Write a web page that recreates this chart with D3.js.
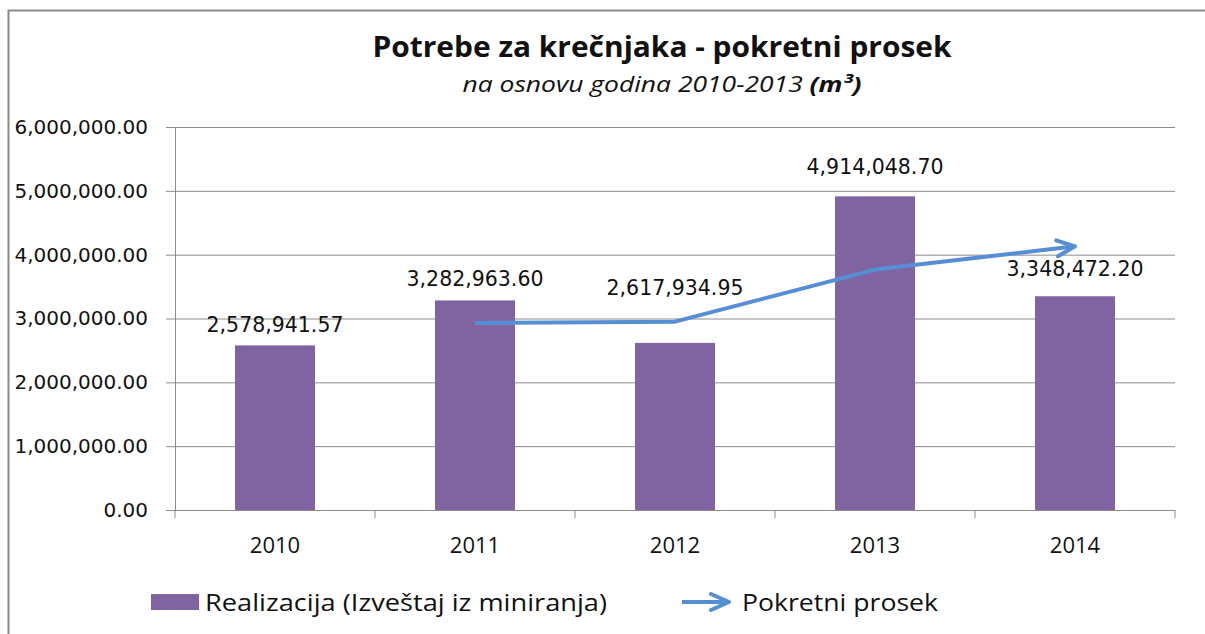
<!DOCTYPE html>
<html>
<head>
<meta charset="utf-8">
<script src="https://cdn.jsdelivr.net/npm/d3@7"></script>
<style>
  body { margin: 0; background: #fff; }
  text { font-family: "Open Sans", "Noto Sans", sans-serif; fill: #111; }
  .num { font-family: "DejaVu Sans", "Open Sans", sans-serif; }
</style>
</head>
<body>
<div id="chart"></div>
<script>
const width = 1205;
const height = 634;

// data
const years = ["2010", "2011", "2012", "2013", "2014"];
const realizacija = [2578941.57, 3282963.60, 2617934.95, 4914048.70, 3348472.20];
const pokretniProsek = [null, 2930952.59, 2950449.28, 3765991.83, 4131260.45];
const yTicks = [0, 1000000, 2000000, 3000000, 4000000, 5000000, 6000000];
// how far each value label sits above its bar (2012 is pushed up over the line)
const labelLift = [20, 21, 55, 29, 27];

const barColor = "#8064a2";
const lineColor = "#558ed5";
const gridColor = "#8c8c8c";

const plotLeft = 175, plotRight = 1175, plotTop = 127, plotBottom = 510;

const svg = d3.select("#chart").append("svg")
    .attr("width", width)
    .attr("height", height);

// outer frame (only top + left visible)
svg.append("path")
    .attr("d", `M8.5,${height} L8.5,10.5 L${width},10.5`)
    .attr("fill", "none")
    .attr("stroke", "#8a8a8a")
    .attr("stroke-width", 2);

// titles
svg.append("text")
    .attr("x", 662).attr("y", 57)
    .attr("text-anchor", "middle")
    .attr("font-size", 29)
    .attr("font-weight", "bold")
    .attr("textLength", 579)
    .attr("lengthAdjust", "spacingAndGlyphs")
    .text("Potrebe za krečnjaka - pokretni prosek");

const sub = svg.append("text")
    .attr("x", 662).attr("y", 92)
    .attr("text-anchor", "middle")
    .attr("font-size", 21)
    .attr("font-style", "italic")
    .attr("textLength", 399)
    .attr("lengthAdjust", "spacingAndGlyphs");
sub.append("tspan").text("na osnovu godina 2010-2013  ");
sub.append("tspan").attr("font-weight", "bold").text("(m³)");

const x = d3.scaleBand()
    .domain(years)
    .range([plotLeft, plotRight])
    .paddingInner(0.6)
    .paddingOuter(0.3);

const y = d3.scaleLinear()
    .domain([0, 6000000])
    .range([plotBottom, plotTop]);

const fmt = d3.format(",.2f");

// gridlines
svg.append("g")
    .attr("transform", `translate(${plotLeft},0)`)
    .call(d3.axisLeft(y).tickValues(yTicks).tickSize(-(plotRight - plotLeft)).tickFormat(""))
    .call(g => g.select(".domain").remove())
    .call(g => g.selectAll("line").attr("stroke", gridColor));

// y axis
svg.append("g")
    .attr("transform", `translate(${plotLeft},0)`)
    .call(d3.axisLeft(y).tickValues(yTicks).tickSizeInner(9).tickSizeOuter(0).tickPadding(18).tickFormat(fmt))
    .call(g => g.select(".domain").attr("stroke", gridColor))
    .call(g => g.selectAll("line").attr("stroke", gridColor))
    .call(g => g.selectAll("text")
        .attr("class", "num")
        .attr("font-size", 20)
        .attr("fill", "#111"));

// x axis: tick marks at band boundaries
const step = x.step();
const bounds = years.map(d => x(d) + x.bandwidth() / 2 - step / 2).concat([plotRight]);
svg.append("g").selectAll("line")
    .data(bounds)
    .join("line")
    .attr("x1", d => d).attr("x2", d => d)
    .attr("y1", plotBottom).attr("y2", plotBottom + 8)
    .attr("stroke", gridColor);

svg.append("line")
    .attr("x1", plotLeft - 9).attr("x2", plotRight)
    .attr("y1", plotBottom + 0.5).attr("y2", plotBottom + 0.5)
    .attr("stroke", gridColor);

svg.append("g").selectAll("text")
    .data(years)
    .join("text")
    .attr("x", d => x(d) + x.bandwidth() / 2)
    .attr("y", 553)
    .attr("text-anchor", "middle")
    .attr("font-size", 22)
    .text(d => d);

// bars
svg.append("g").selectAll("rect")
    .data(realizacija)
    .join("rect")
    .attr("x", (d, i) => x(years[i]))
    .attr("width", x.bandwidth())
    .attr("y", d => y(d))
    .attr("height", d => plotBottom - y(d))
    .attr("fill", barColor);

// value labels
svg.append("g").selectAll("text")
    .data(realizacija)
    .join("text")
    .attr("class", "num")
    .attr("x", (d, i) => x(years[i]) + x.bandwidth() / 2)
    .attr("y", (d, i) => y(d) - labelLift[i] + 7)
    .attr("text-anchor", "middle")
    .attr("font-size", 20.5)
    .text(d => fmt(d));

// arrow marker
const defs = svg.append("defs");
defs.append("marker")
    .attr("id", "arrow")
    .attr("markerUnits", "userSpaceOnUse")
    .attr("viewBox", "-22 -11 24 22")
    .attr("refX", 0).attr("refY", 0)
    .attr("markerWidth", 24).attr("markerHeight", 22)
    .attr("orient", "auto")
    .append("path")
    .attr("d", "M-18,-8 L0,0 L-18,8")
    .attr("fill", "none")
    .attr("stroke", lineColor)
    .attr("stroke-width", 4)
    .attr("stroke-linecap", "round")
    .attr("stroke-linejoin", "round");

// moving average line
const line = d3.line()
    .defined(d => d[1] != null)
    .x(d => x(d[0]) + x.bandwidth() / 2)
    .y(d => y(d[1]));

svg.append("path")
    .datum(years.map((yr, i) => [yr, pokretniProsek[i]]))
    .attr("d", line)
    .attr("fill", "none")
    .attr("stroke", lineColor)
    .attr("stroke-width", 4)
    .attr("stroke-linejoin", "round")
    .attr("marker-end", "url(#arrow)");

// legend
svg.append("rect")
    .attr("x", 151).attr("y", 594)
    .attr("width", 48).attr("height", 16)
    .attr("fill", barColor);
svg.append("text")
    .attr("x", 205).attr("y", 611)
    .attr("font-size", 23)
    .attr("textLength", 402)
    .attr("lengthAdjust", "spacingAndGlyphs")
    .text("Realizacija (Izveštaj iz miniranja)");

svg.append("line")
    .attr("x1", 682).attr("x2", 729)
    .attr("y1", 602).attr("y2", 602)
    .attr("stroke", lineColor)
    .attr("stroke-width", 4)
    .attr("marker-end", "url(#arrow)");
svg.append("text")
    .attr("x", 742).attr("y", 611)
    .attr("font-size", 23)
    .attr("textLength", 196)
    .attr("lengthAdjust", "spacingAndGlyphs")
    .text("Pokretni prosek");
</script>
</body>
</html>
